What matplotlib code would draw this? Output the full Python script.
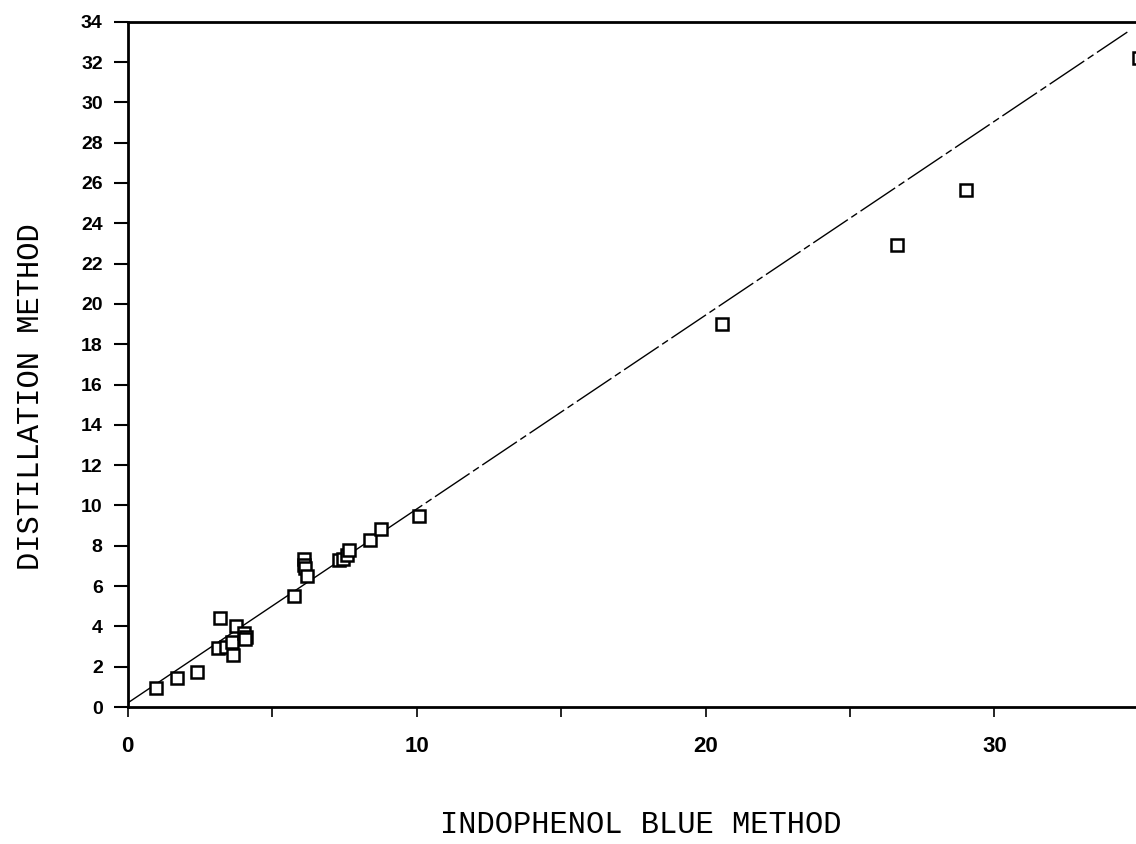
import numpy as np
import matplotlib
matplotlib.use('Agg')
from matplotlib import pyplot as plt

# Indophenol blue vs distillation method
indophenol = [0.97, 1.69, 2.41, 3.20, 3.14, 3.41, 3.66, 3.61, 3.76, 4.01, 4.10, 4.05,
              5.77, 6.09, 6.09, 6.15, 6.21, 7.30, 7.45, 7.60, 7.65, 8.40, 8.77, 10.08,
              20.58, 26.62, 29.00, 35.00]
distillation = [0.96, 1.42, 1.75, 4.40, 2.91, 2.99, 2.58, 3.24, 4.02, 3.66, 3.49, 3.35,
                5.52, 7.33, 7.05, 6.88, 6.50, 7.30, 7.35, 7.54, 7.79, 8.29, 8.82, 9.48,
                18.99, 22.93, 25.66, 32.19]

# regression line drawn on the original
fit_intercept = 0.2
fit_slope = 0.962
fit_xmax = 34.6

x_major = [0, 10, 20, 30]
x_minor = [5, 15, 25]
y_ticks = list(range(0, 35, 2))

fig = plt.figure(figsize=(11.36, 8.44), dpi=100)
ax = fig.add_axes([0.1124, 0.1623, 0.8876, 0.812])

# solid part of the line, then the broken part as it looks in the scan
xs = np.array([0, 9.0])
ax.plot(xs, fit_intercept + fit_slope * xs, color='black', linewidth=1.0)
xd = np.array([9.0, fit_xmax])
ax.plot(xd, fit_intercept + fit_slope * xd, color='black', linewidth=1.0,
        linestyle=(0, (30, 3, 5, 3)))

ax.plot(indophenol, distillation, linestyle='none', marker='s', markersize=8.5,
        markerfacecolor='white', markeredgecolor='black', markeredgewidth=1.8)

ax.set_xlim(0, 34.9)
ax.set_ylim(0, 34)

ax.set_xticks(x_major)
ax.set_xticks(x_minor, minor=True)
ax.set_yticks(y_ticks)
ax.set_xticklabels([str(v) for v in x_major])
ax.set_yticklabels([str(v) for v in y_ticks])

ax.tick_params(axis='y', direction='out', length=10, width=1.5, pad=8)
ax.tick_params(axis='x', which='both', direction='out', length=7, width=1.2, pad=14)

# tick label fonts
for lab in ax.get_yticklabels():
    lab.set_fontfamily('Liberation Sans')
    lab.set_fontweight('bold')
    lab.set_fontsize(14)
for lab in ax.get_xticklabels():
    lab.set_fontfamily('Liberation Sans')
    lab.set_fontweight('bold')
    lab.set_fontsize(16)

ax.spines['right'].set_visible(False)
for side in ['left', 'bottom', 'top']:
    ax.spines[side].set_linewidth(2)

label_font = {'family': 'Liberation Mono', 'size': 22}
fig.text(0.564, 0.005, 'INDOPHENOL BLUE METHOD', fontdict=label_font,
         ha='center', va='bottom')
fig.text(0.027, 0.53, 'DISTILLATION METHOD', fontdict=label_font,
         rotation=90, ha='center', va='center')

plt.savefig('out.png', dpi=100)
